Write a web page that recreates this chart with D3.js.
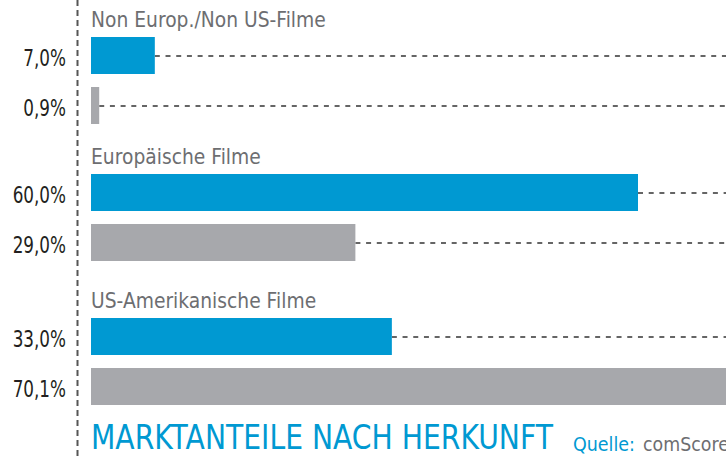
<!DOCTYPE html>
<html>
<head>
<meta charset="utf-8">
<script src="https://cdn.jsdelivr.net/npm/d3@7"></script>
<style>
  body { margin: 0; background: #fff; }
  svg { display: block; }
  text { font-family: "DejaVu Sans", sans-serif; }
</style>
</head>
<body>
<div id="chart"></div>
<script>
// groups (top to bottom) and shares per bar
const groups = ["Non Europ./Non US-Filme", "Europäische Filme", "US-Amerikanische Filme"];
const blueValues = [7.0, 60.0, 33.0];
const greyValues = [0.9, 29.0, 70.1];
const valueLabels = [["7,0%", "0,9%"], ["60,0%", "29,0%"], ["33,0%", "70,1%"]];

const width = 726, height = 456;
const blue = "#0099d2", grey = "#a7a8ac";

let svg = d3.select("#chart").append("svg")
  .attr("width", width)
  .attr("height", height);

// x scale: percent -> pixels
let x = d3.scaleLinear().domain([0, 60]).range([91, 638]);

// rows: each group has a blue and grey bar
let rows = [];
groups.forEach(function(g, i) {
  rows.push({ group: i, kind: "blue", value: blueValues[i], label: valueLabels[i][0] });
  rows.push({ group: i, kind: "grey", value: greyValues[i], label: valueLabels[i][1] });
});

let groupTop = [37, 174, 318];
let y = function(d) {
  return groupTop[d.group] + (d.kind == "blue" ? 0 : 50);
};
let barH = 37;

// squeeze a set of texts so the font looks condensed like the original
function condense(sel, factor) {
  sel.each(function() {
    let w = this.getComputedTextLength();
    d3.select(this)
      .attr("textLength", w * factor)
      .attr("lengthAdjust", "spacingAndGlyphs");
  });
}

// dashed axis line
svg.append("line")
  .attr("x1", 77.5).attr("x2", 77.5)
  .attr("y1", 0).attr("y2", height)
  .attr("stroke", "#555")
  .attr("stroke-width", 2)
  .attr("stroke-dasharray", "6,4");

// dashed leader lines
svg.selectAll(".leader")
  .data(rows)
  .enter()
  .append("line")
  .attr("x1", function(d) { return x(d.value); })
  .attr("x2", width)
  .attr("y1", function(d) { return y(d) + barH / 2 + 0.5; })
  .attr("y2", function(d) { return y(d) + barH / 2 + 0.5; })
  .attr("stroke", "#333")
  .attr("stroke-width", 1.3)
  .attr("stroke-dasharray", "5,5.7");

// bars
svg.selectAll(".bar")
  .data(rows)
  .enter()
  .append("rect")
  .attr("x", x(0))
  .attr("y", function(d) { return y(d); })
  .attr("width", function(d) { return x(d.value) - x(0); })
  .attr("height", barH)
  .attr("fill", function(d) { return d.kind == "blue" ? blue : grey; });

// value labels
let vals = svg.selectAll(".val")
  .data(rows)
  .enter()
  .append("text")
  .attr("x", 66)
  .attr("y", function(d) { return y(d) + barH / 2 + 10; })
  .attr("text-anchor", "end")
  .attr("font-size", 23)
  .attr("fill", "#231f20")
  .text(function(d) { return d.label; });
condense(vals, 0.73);

// group titles
let grp = svg.selectAll(".grp")
  .data(groups)
  .enter()
  .append("text")
  .attr("x", 91)
  .attr("y", function(d, i) { return groupTop[i] - 10; })
  .attr("font-size", 22)
  .attr("fill", "#6d6e71")
  .text(function(d) { return d; });
condense(grp, 0.85);

// title and source
let title = svg.append("text")
  .attr("x", 91)
  .attr("y", 449)
  .attr("font-size", 34)
  .attr("fill", blue)
  .text("MARKTANTEILE NACH HERKUNFT");
condense(title, 0.83);

let q = svg.append("text")
  .attr("x", 573)
  .attr("y", 451)
  .attr("font-size", 20)
  .attr("fill", blue)
  .text("Quelle:");
q.attr("textLength", 62).attr("lengthAdjust", "spacingAndGlyphs");

let cs = svg.append("text")
  .attr("x", 643)
  .attr("y", 451)
  .attr("font-size", 20)
  .attr("fill", "#6d6e71")
  .text("comScore");
condense(cs, 0.87);
</script>
</body>
</html>
